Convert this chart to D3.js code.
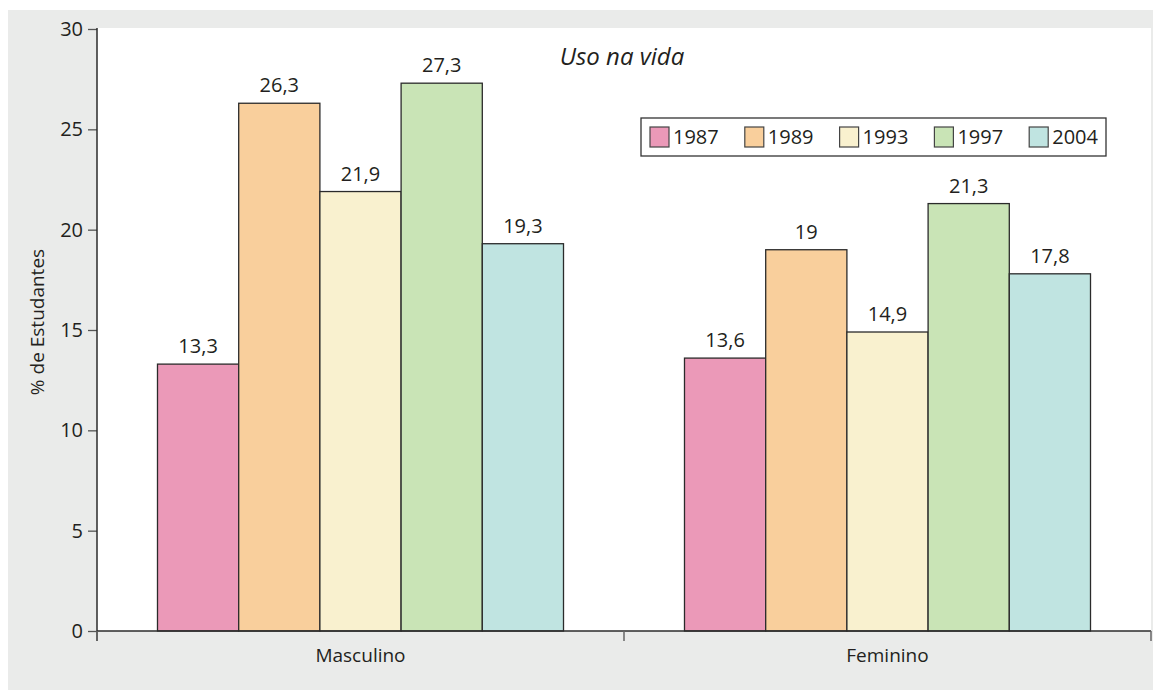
<!DOCTYPE html>
<html>
<head>
<meta charset="utf-8">
<script src="https://cdn.jsdelivr.net/npm/d3@7"></script>
<style>
  body { margin: 0; background: #ffffff; }
  text { font-family: "Open Sans", "Noto Sans", sans-serif; fill: #231f20; }
</style>
</head>
<body>
<div id="chart"></div>
<script>
// Chart data
const groups = ["Masculino", "Feminino"];
const years = ["1987", "1989", "1993", "1997", "2004"];
const masculino = [13.3, 26.3, 21.9, 27.3, 19.3];
const feminino = [13.6, 19, 14.9, 21.3, 17.8];
const yTicks = [0, 5, 10, 15, 20, 25, 30];
const colors = ["#eb99b8", "#f9cf9c", "#f9f1cf", "#c9e4b6", "#c0e4e1"];

(function () {
    const width = 1153;
    const height = 691;
    const left = 97, right = 1151, top = 29, bottom = 631;

    const svg = d3.select("#chart")
        .append("svg")
        .attr("width", width)
        .attr("height", height);

    // gray backdrop and white plot panel
    svg.append("rect")
        .attr("x", 8).attr("y", 10)
        .attr("width", width - 8).attr("height", 680)
        .attr("fill", "#eaebea");
    svg.append("rect")
        .attr("x", left).attr("y", 28)
        .attr("width", right - left).attr("height", bottom - 28)
        .attr("fill", "#ffffff");

    const rows = groups.map((g, i) => ({
        group: g,
        values: (i === 0 ? masculino : feminino).map((v, j) => ({ year: years[j], value: v }))
    }));

    // scales
    const x0 = d3.scaleBand().domain(groups).range([left, right]);
    const x1 = d3.scaleBand().domain(years)
        .range([0, x0.bandwidth()])
        .paddingInner(0)
        .paddingOuter(0.745);
    const y = d3.scaleLinear().domain([0, 30]).range([bottom, top]);
    const color = d3.scaleOrdinal().domain(years).range(colors);
    const fmt = v => String(v).replace(".", ",");

    // bars
    const g = svg.selectAll(".grp")
        .data(rows)
        .enter()
        .append("g")
        .attr("transform", d => `translate(${x0(d.group)},0)`);

    g.selectAll("rect")
        .data(d => d.values)
        .enter()
        .append("rect")
        .attr("x", d => x1(d.year))
        .attr("y", d => y(d.value))
        .attr("width", x1.bandwidth())
        .attr("height", d => y(0) - y(d.value))
        .attr("fill", d => color(d.year))
        .attr("stroke", "#2b2b2b")
        .attr("stroke-width", 1.3);

    // value labels
    g.selectAll(".val")
        .data(d => d.values)
        .enter()
        .append("text")
        .attr("x", d => x1(d.year) + x1.bandwidth() / 2)
        .attr("y", d => y(d.value) - 11)
        .attr("text-anchor", "middle")
        .style("font-size", "20px")
        .text(d => fmt(d.value));

    // y axis
    const yAxis = svg.append("g")
        .attr("transform", `translate(${left},0)`)
        .call(d3.axisLeft(y).tickValues(yTicks).tickSize(9).tickPadding(5));
    yAxis.select(".domain").remove();
    yAxis.selectAll(".tick line").attr("stroke", "#555").attr("stroke-width", 1.3);
    yAxis.selectAll(".tick text").style("font-size", "20px").attr("fill", "#231f20");
    svg.append("line")
        .attr("x1", left).attr("x2", left)
        .attr("y1", 28).attr("y2", bottom + 10)
        .attr("stroke", "#2b2b2b").attr("stroke-width", 1.5);

    // x axis
    svg.append("line")
        .attr("x1", left).attr("x2", right)
        .attr("y1", bottom).attr("y2", bottom)
        .attr("stroke", "#2b2b2b").attr("stroke-width", 1.5);
    const sepTicks = [left, x0("Feminino"), right];
    svg.selectAll(".sep")
        .data(sepTicks)
        .enter()
        .append("line")
        .attr("x1", d => d).attr("x2", d => d)
        .attr("y1", bottom).attr("y2", bottom + 10)
        .attr("stroke", "#666").attr("stroke-width", 1.5);
    svg.selectAll(".cat")
        .data(groups)
        .enter()
        .append("text")
        .attr("x", d => x0(d) + x0.bandwidth() / 2)
        .attr("y", 662)
        .attr("text-anchor", "middle")
        .style("font-size", "19px")
        .text(d => d);

    // axis title
    svg.append("text")
        .attr("transform", "translate(44,322) rotate(-90)")
        .attr("text-anchor", "middle")
        .style("font-size", "19px")
        .text("% de Estudantes");

    // chart title
    svg.append("text")
        .attr("x", 622).attr("y", 65)
        .attr("text-anchor", "middle")
        .style("font-size", "24px")
        .style("font-style", "italic")
        .text("Uso na vida");

    // legend
    const legend = svg.append("g").attr("transform", "translate(641,118)");
    legend.append("rect")
        .attr("width", 465).attr("height", 38)
        .attr("fill", "#ffffff")
        .attr("stroke", "#333").attr("stroke-width", 1.3);
    const item = legend.selectAll(".item")
        .data(years)
        .enter()
        .append("g")
        .attr("transform", (d, i) => `translate(${9 + i * 94.8},9)`);
    item.append("rect")
        .attr("width", 19).attr("height", 20)
        .attr("fill", d => color(d))
        .attr("stroke", "#444").attr("stroke-width", 1.2);
    item.append("text")
        .attr("x", 23).attr("y", 17)
        .style("font-size", "20px")
        .text(d => d);
})();
</script>
</body>
</html>
